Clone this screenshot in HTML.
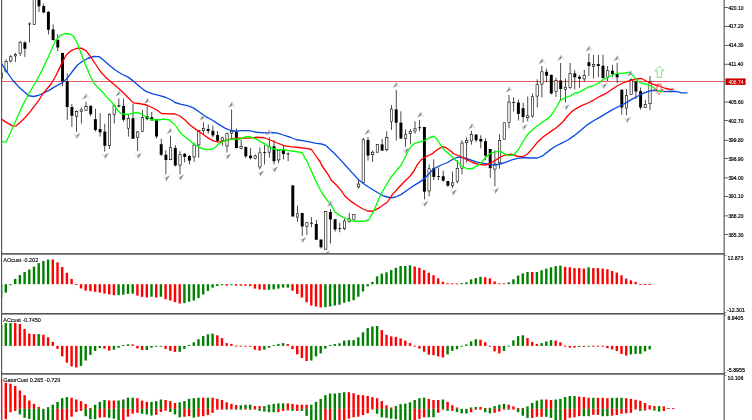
<!DOCTYPE html><html><head><meta charset="utf-8"><title>chart</title><style>html,body{margin:0;padding:0;background:#fff;overflow:hidden}svg{display:block}text{font-family:"Liberation Sans",sans-serif}</style></head><body>
<svg width="752" height="420" viewBox="0 0 752 420">
<rect x="0" y="0" width="752" height="420" fill="#fff"/>
<g>
<rect x="-0.1" y="284.2" width="2.4" height="14.3" fill="#008000"/>
<rect x="4.6" y="284.2" width="2.4" height="8.4" fill="#008000"/>
<rect x="9.3" y="284.2" width="2.4" height="1" fill="#008000"/>
<rect x="14" y="278.9" width="2.4" height="5.3" fill="#008000"/>
<rect x="18.7" y="275.1" width="2.4" height="9.1" fill="#008000"/>
<rect x="23.4" y="272" width="2.4" height="12.2" fill="#008000"/>
<rect x="28.1" y="269.5" width="2.4" height="14.7" fill="#008000"/>
<rect x="32.8" y="266.6" width="2.4" height="17.6" fill="#008000"/>
<rect x="37.5" y="263.1" width="2.4" height="21.1" fill="#008000"/>
<rect x="42.2" y="261" width="2.4" height="23.2" fill="#008000"/>
<rect x="46.9" y="259.5" width="2.4" height="24.7" fill="#008000"/>
<rect x="51.6" y="259.5" width="2.4" height="24.7" fill="#ff0000"/>
<rect x="56.3" y="262.3" width="2.4" height="21.9" fill="#ff0000"/>
<rect x="61" y="267" width="2.4" height="17.2" fill="#ff0000"/>
<rect x="65.7" y="272.8" width="2.4" height="11.4" fill="#ff0000"/>
<rect x="70.4" y="278.9" width="2.4" height="5.3" fill="#ff0000"/>
<rect x="75.1" y="284.1" width="2.4" height="0.9" fill="#ff0000"/>
<rect x="79.8" y="284.2" width="2.4" height="4.2" fill="#ff0000"/>
<rect x="84.5" y="284.2" width="2.4" height="6.4" fill="#ff0000"/>
<rect x="89.2" y="284.2" width="2.4" height="7" fill="#ff0000"/>
<rect x="93.9" y="284.2" width="2.4" height="7.7" fill="#ff0000"/>
<rect x="98.6" y="284.2" width="2.4" height="8.4" fill="#ff0000"/>
<rect x="103.3" y="284.2" width="2.4" height="9.4" fill="#ff0000"/>
<rect x="108" y="284.2" width="2.4" height="10.2" fill="#ff0000"/>
<rect x="112.7" y="284.2" width="2.4" height="11" fill="#ff0000"/>
<rect x="117.4" y="284.2" width="2.4" height="11" fill="#008000"/>
<rect x="122.1" y="284.2" width="2.4" height="10.5" fill="#008000"/>
<rect x="126.8" y="284.2" width="2.4" height="9.7" fill="#008000"/>
<rect x="131.5" y="284.2" width="2.4" height="9.4" fill="#008000"/>
<rect x="136.2" y="284.2" width="2.4" height="11.4" fill="#ff0000"/>
<rect x="140.9" y="284.2" width="2.4" height="12.7" fill="#ff0000"/>
<rect x="145.6" y="284.2" width="2.4" height="13.3" fill="#ff0000"/>
<rect x="150.3" y="284.2" width="2.4" height="12.5" fill="#008000"/>
<rect x="155" y="284.2" width="2.4" height="13.3" fill="#ff0000"/>
<rect x="159.7" y="284.2" width="2.4" height="12.5" fill="#008000"/>
<rect x="164.4" y="284.2" width="2.4" height="15" fill="#ff0000"/>
<rect x="169.1" y="284.2" width="2.4" height="16.3" fill="#ff0000"/>
<rect x="173.8" y="284.2" width="2.4" height="18" fill="#ff0000"/>
<rect x="178.5" y="284.2" width="2.4" height="19.3" fill="#ff0000"/>
<rect x="183.2" y="284.2" width="2.4" height="19" fill="#008000"/>
<rect x="187.9" y="284.2" width="2.4" height="17.5" fill="#008000"/>
<rect x="192.6" y="284.2" width="2.4" height="16.3" fill="#008000"/>
<rect x="197.3" y="284.2" width="2.4" height="13.8" fill="#008000"/>
<rect x="202" y="284.2" width="2.4" height="10.2" fill="#008000"/>
<rect x="206.7" y="284.2" width="2.4" height="6.7" fill="#008000"/>
<rect x="211.4" y="284.2" width="2.4" height="3.5" fill="#008000"/>
<rect x="216.1" y="284.2" width="2.4" height="1.9" fill="#008000"/>
<rect x="220.8" y="284.2" width="2.4" height="1" fill="#008000"/>
<rect x="225.5" y="284.2" width="2.4" height="1.5" fill="#ff0000"/>
<rect x="230.2" y="284.2" width="2.4" height="1" fill="#008000"/>
<rect x="234.9" y="284.2" width="2.4" height="1.5" fill="#ff0000"/>
<rect x="239.6" y="284.2" width="2.4" height="1.5" fill="#ff0000"/>
<rect x="244.3" y="284.2" width="2.4" height="1.5" fill="#ff0000"/>
<rect x="249" y="284.2" width="2.4" height="1.9" fill="#ff0000"/>
<rect x="253.7" y="284.2" width="2.4" height="4.4" fill="#ff0000"/>
<rect x="258.4" y="284.2" width="2.4" height="5.2" fill="#ff0000"/>
<rect x="263.1" y="284.2" width="2.4" height="5.5" fill="#ff0000"/>
<rect x="267.8" y="284.2" width="2.4" height="5.5" fill="#008000"/>
<rect x="272.5" y="284.2" width="2.4" height="5.2" fill="#008000"/>
<rect x="277.2" y="284.2" width="2.4" height="4.4" fill="#008000"/>
<rect x="281.9" y="284.2" width="2.4" height="3.4" fill="#008000"/>
<rect x="286.6" y="284.2" width="2.4" height="3.4" fill="#008000"/>
<rect x="291.3" y="284.2" width="2.4" height="6.4" fill="#ff0000"/>
<rect x="296" y="284.2" width="2.4" height="9.7" fill="#ff0000"/>
<rect x="300.7" y="284.2" width="2.4" height="13.3" fill="#ff0000"/>
<rect x="305.4" y="284.2" width="2.4" height="18" fill="#ff0000"/>
<rect x="310.1" y="284.2" width="2.4" height="21.3" fill="#ff0000"/>
<rect x="314.8" y="284.2" width="2.4" height="22.3" fill="#ff0000"/>
<rect x="319.5" y="284.2" width="2.4" height="23.3" fill="#ff0000"/>
<rect x="324.2" y="284.2" width="2.4" height="23" fill="#008000"/>
<rect x="328.9" y="284.2" width="2.4" height="22.2" fill="#008000"/>
<rect x="333.6" y="284.2" width="2.4" height="21.3" fill="#008000"/>
<rect x="338.3" y="284.2" width="2.4" height="20.5" fill="#008000"/>
<rect x="343" y="284.2" width="2.4" height="18.5" fill="#008000"/>
<rect x="347.7" y="284.2" width="2.4" height="17.5" fill="#008000"/>
<rect x="352.4" y="284.2" width="2.4" height="16" fill="#008000"/>
<rect x="357.1" y="284.2" width="2.4" height="12.5" fill="#008000"/>
<rect x="361.8" y="284.2" width="2.4" height="7.3" fill="#008000"/>
<rect x="366.5" y="284.2" width="2.4" height="2.2" fill="#008000"/>
<rect x="371.2" y="281.9" width="2.4" height="2.3" fill="#008000"/>
<rect x="375.9" y="276.4" width="2.4" height="7.8" fill="#008000"/>
<rect x="380.6" y="273.6" width="2.4" height="10.6" fill="#008000"/>
<rect x="385.3" y="272.3" width="2.4" height="11.9" fill="#008000"/>
<rect x="390" y="270.1" width="2.4" height="14.1" fill="#008000"/>
<rect x="394.7" y="267.8" width="2.4" height="16.4" fill="#008000"/>
<rect x="399.4" y="266" width="2.4" height="18.2" fill="#008000"/>
<rect x="404.1" y="266" width="2.4" height="18.2" fill="#008000"/>
<rect x="408.8" y="265.3" width="2.4" height="18.9" fill="#008000"/>
<rect x="413.5" y="266.5" width="2.4" height="17.7" fill="#ff0000"/>
<rect x="418.2" y="267.8" width="2.4" height="16.4" fill="#ff0000"/>
<rect x="422.9" y="270.1" width="2.4" height="14.1" fill="#ff0000"/>
<rect x="427.6" y="272.8" width="2.4" height="11.4" fill="#ff0000"/>
<rect x="432.3" y="275.3" width="2.4" height="8.9" fill="#ff0000"/>
<rect x="437" y="278.4" width="2.4" height="5.8" fill="#ff0000"/>
<rect x="441.7" y="281.8" width="2.4" height="2.4" fill="#ff0000"/>
<rect x="446.4" y="283.2" width="2.4" height="1" fill="#ff0000"/>
<rect x="451.1" y="283.3" width="2.4" height="0.9" fill="#ff0000"/>
<rect x="455.8" y="283.45" width="2.4" height="0.9" fill="#ff0000"/>
<rect x="460.5" y="283.1" width="2.4" height="1.1" fill="#008000"/>
<rect x="465.2" y="282.3" width="2.4" height="1.9" fill="#008000"/>
<rect x="469.9" y="279.4" width="2.4" height="4.8" fill="#008000"/>
<rect x="474.6" y="278.1" width="2.4" height="6.1" fill="#008000"/>
<rect x="479.3" y="276.8" width="2.4" height="7.4" fill="#008000"/>
<rect x="484" y="277.3" width="2.4" height="6.9" fill="#ff0000"/>
<rect x="488.7" y="278.4" width="2.4" height="5.8" fill="#ff0000"/>
<rect x="493.4" y="281.4" width="2.4" height="2.8" fill="#ff0000"/>
<rect x="498.1" y="283.3" width="2.4" height="0.9" fill="#ff0000"/>
<rect x="502.8" y="283.3" width="2.4" height="0.9" fill="#ff0000"/>
<rect x="507.5" y="282.3" width="2.4" height="1.9" fill="#008000"/>
<rect x="512.2" y="279.3" width="2.4" height="4.9" fill="#008000"/>
<rect x="516.9" y="275.6" width="2.4" height="8.6" fill="#008000"/>
<rect x="521.6" y="273.4" width="2.4" height="10.8" fill="#008000"/>
<rect x="526.3" y="272" width="2.4" height="12.2" fill="#008000"/>
<rect x="531" y="272" width="2.4" height="12.2" fill="#ff0000"/>
<rect x="535.7" y="272" width="2.4" height="12.2" fill="#008000"/>
<rect x="540.4" y="270.3" width="2.4" height="13.9" fill="#008000"/>
<rect x="545.1" y="268.6" width="2.4" height="15.6" fill="#008000"/>
<rect x="549.8" y="267.3" width="2.4" height="16.9" fill="#008000"/>
<rect x="554.5" y="266.1" width="2.4" height="18.1" fill="#008000"/>
<rect x="559.2" y="265.6" width="2.4" height="18.6" fill="#008000"/>
<rect x="563.9" y="266.8" width="2.4" height="17.4" fill="#ff0000"/>
<rect x="568.6" y="267.3" width="2.4" height="16.9" fill="#ff0000"/>
<rect x="573.3" y="268.1" width="2.4" height="16.1" fill="#ff0000"/>
<rect x="578" y="268.1" width="2.4" height="16.1" fill="#ff0000"/>
<rect x="582.7" y="268.6" width="2.4" height="15.6" fill="#ff0000"/>
<rect x="587.4" y="267.3" width="2.4" height="16.9" fill="#008000"/>
<rect x="592.1" y="268.1" width="2.4" height="16.1" fill="#ff0000"/>
<rect x="596.8" y="268.1" width="2.4" height="16.1" fill="#ff0000"/>
<rect x="601.5" y="268.6" width="2.4" height="15.6" fill="#ff0000"/>
<rect x="606.2" y="269.3" width="2.4" height="14.9" fill="#ff0000"/>
<rect x="610.9" y="271" width="2.4" height="13.2" fill="#ff0000"/>
<rect x="615.6" y="272.6" width="2.4" height="11.6" fill="#ff0000"/>
<rect x="620.3" y="275.3" width="2.4" height="8.9" fill="#ff0000"/>
<rect x="625" y="278.6" width="2.4" height="5.6" fill="#ff0000"/>
<rect x="629.7" y="280.3" width="2.4" height="3.9" fill="#ff0000"/>
<rect x="634.4" y="281.9" width="2.4" height="2.3" fill="#ff0000"/>
<rect x="639.1" y="284.1" width="2.4" height="0.9" fill="#ff0000"/>
<rect x="643.8" y="284.1" width="2.4" height="0.9" fill="#ff0000"/>
<rect x="648.5" y="284.1" width="2.4" height="0.9" fill="#ff0000"/>
<rect x="-0.1" y="324.8" width="2.4" height="21.1" fill="#008000"/>
<rect x="4.6" y="323.1" width="2.4" height="22.8" fill="#008000"/>
<rect x="9.3" y="323.1" width="2.4" height="22.8" fill="#008000"/>
<rect x="14" y="323.1" width="2.4" height="22.8" fill="#ff0000"/>
<rect x="18.7" y="324" width="2.4" height="21.9" fill="#ff0000"/>
<rect x="23.4" y="329" width="2.4" height="16.9" fill="#ff0000"/>
<rect x="28.1" y="333.6" width="2.4" height="12.3" fill="#ff0000"/>
<rect x="32.8" y="334.1" width="2.4" height="11.8" fill="#ff0000"/>
<rect x="37.5" y="334.1" width="2.4" height="11.8" fill="#008000"/>
<rect x="42.2" y="334.8" width="2.4" height="11.1" fill="#ff0000"/>
<rect x="46.9" y="337.3" width="2.4" height="8.6" fill="#ff0000"/>
<rect x="51.6" y="341.9" width="2.4" height="4" fill="#ff0000"/>
<rect x="56.3" y="345.9" width="2.4" height="3" fill="#ff0000"/>
<rect x="61" y="345.9" width="2.4" height="10.5" fill="#ff0000"/>
<rect x="65.7" y="345.9" width="2.4" height="16.8" fill="#ff0000"/>
<rect x="70.4" y="345.9" width="2.4" height="20.5" fill="#ff0000"/>
<rect x="75.1" y="345.9" width="2.4" height="21.6" fill="#ff0000"/>
<rect x="79.8" y="345.9" width="2.4" height="20" fill="#008000"/>
<rect x="84.5" y="345.9" width="2.4" height="14.6" fill="#008000"/>
<rect x="89.2" y="345.9" width="2.4" height="9" fill="#008000"/>
<rect x="93.9" y="345.9" width="2.4" height="5" fill="#008000"/>
<rect x="98.6" y="345.9" width="2.4" height="2.2" fill="#008000"/>
<rect x="103.3" y="345.9" width="2.4" height="2.7" fill="#ff0000"/>
<rect x="108" y="345.9" width="2.4" height="4.7" fill="#ff0000"/>
<rect x="112.7" y="345.9" width="2.4" height="3.8" fill="#008000"/>
<rect x="117.4" y="345.9" width="2.4" height="1.8" fill="#008000"/>
<rect x="122.1" y="345.15" width="2.4" height="0.9" fill="#008000"/>
<rect x="126.8" y="344.3" width="2.4" height="1.6" fill="#008000"/>
<rect x="131.5" y="344.4" width="2.4" height="1.5" fill="#ff0000"/>
<rect x="136.2" y="345.9" width="2.4" height="2.5" fill="#ff0000"/>
<rect x="140.9" y="345.9" width="2.4" height="4.2" fill="#ff0000"/>
<rect x="145.6" y="345.9" width="2.4" height="4.2" fill="#008000"/>
<rect x="150.3" y="345.9" width="2.4" height="1.8" fill="#008000"/>
<rect x="155" y="345.85" width="2.4" height="0.9" fill="#008000"/>
<rect x="159.7" y="345.8" width="2.4" height="0.9" fill="#008000"/>
<rect x="164.4" y="345.9" width="2.4" height="3" fill="#ff0000"/>
<rect x="169.1" y="345.9" width="2.4" height="5" fill="#ff0000"/>
<rect x="173.8" y="345.9" width="2.4" height="6" fill="#ff0000"/>
<rect x="178.5" y="345.9" width="2.4" height="6" fill="#008000"/>
<rect x="183.2" y="345.9" width="2.4" height="3" fill="#008000"/>
<rect x="187.9" y="344.9" width="2.4" height="1" fill="#008000"/>
<rect x="192.6" y="342.3" width="2.4" height="3.6" fill="#008000"/>
<rect x="197.3" y="339.3" width="2.4" height="6.6" fill="#008000"/>
<rect x="202" y="336.1" width="2.4" height="9.8" fill="#008000"/>
<rect x="206.7" y="334.3" width="2.4" height="11.6" fill="#008000"/>
<rect x="211.4" y="333.6" width="2.4" height="12.3" fill="#008000"/>
<rect x="216.1" y="335.3" width="2.4" height="10.6" fill="#ff0000"/>
<rect x="220.8" y="338.1" width="2.4" height="7.8" fill="#ff0000"/>
<rect x="225.5" y="343.1" width="2.4" height="2.8" fill="#ff0000"/>
<rect x="230.2" y="343.9" width="2.4" height="2" fill="#ff0000"/>
<rect x="234.9" y="345.7" width="2.4" height="0.9" fill="#ff0000"/>
<rect x="239.6" y="345.7" width="2.4" height="0.9" fill="#ff0000"/>
<rect x="244.3" y="345.7" width="2.4" height="0.9" fill="#ff0000"/>
<rect x="249" y="345.8" width="2.4" height="0.9" fill="#ff0000"/>
<rect x="253.7" y="345.9" width="2.4" height="3.8" fill="#ff0000"/>
<rect x="258.4" y="345.9" width="2.4" height="4.7" fill="#ff0000"/>
<rect x="263.1" y="345.9" width="2.4" height="3.8" fill="#008000"/>
<rect x="267.8" y="345.9" width="2.4" height="1.8" fill="#008000"/>
<rect x="272.5" y="345.15" width="2.4" height="0.9" fill="#008000"/>
<rect x="277.2" y="343.9" width="2.4" height="2" fill="#008000"/>
<rect x="281.9" y="343.1" width="2.4" height="2.8" fill="#008000"/>
<rect x="286.6" y="344.1" width="2.4" height="1.8" fill="#ff0000"/>
<rect x="291.3" y="345.9" width="2.4" height="3.3" fill="#ff0000"/>
<rect x="296" y="345.9" width="2.4" height="8.5" fill="#ff0000"/>
<rect x="300.7" y="345.9" width="2.4" height="12.1" fill="#ff0000"/>
<rect x="305.4" y="345.9" width="2.4" height="15.1" fill="#ff0000"/>
<rect x="310.1" y="345.9" width="2.4" height="14.6" fill="#008000"/>
<rect x="314.8" y="345.9" width="2.4" height="10.5" fill="#008000"/>
<rect x="319.5" y="345.9" width="2.4" height="7.5" fill="#008000"/>
<rect x="324.2" y="345.9" width="2.4" height="2.7" fill="#008000"/>
<rect x="328.9" y="345.15" width="2.4" height="0.9" fill="#008000"/>
<rect x="333.6" y="344.1" width="2.4" height="1.8" fill="#008000"/>
<rect x="338.3" y="343.3" width="2.4" height="2.6" fill="#008000"/>
<rect x="343" y="340.6" width="2.4" height="5.3" fill="#008000"/>
<rect x="347.7" y="340.1" width="2.4" height="5.8" fill="#008000"/>
<rect x="352.4" y="340.1" width="2.4" height="5.8" fill="#008000"/>
<rect x="357.1" y="337.3" width="2.4" height="8.6" fill="#008000"/>
<rect x="361.8" y="332.3" width="2.4" height="13.6" fill="#008000"/>
<rect x="366.5" y="328.1" width="2.4" height="17.8" fill="#008000"/>
<rect x="371.2" y="326.5" width="2.4" height="19.4" fill="#008000"/>
<rect x="375.9" y="326" width="2.4" height="19.9" fill="#008000"/>
<rect x="380.6" y="330.1" width="2.4" height="15.8" fill="#ff0000"/>
<rect x="385.3" y="334.8" width="2.4" height="11.1" fill="#ff0000"/>
<rect x="390" y="336.4" width="2.4" height="9.5" fill="#ff0000"/>
<rect x="394.7" y="336.9" width="2.4" height="9" fill="#ff0000"/>
<rect x="399.4" y="338.4" width="2.4" height="7.5" fill="#ff0000"/>
<rect x="404.1" y="340.6" width="2.4" height="5.3" fill="#ff0000"/>
<rect x="408.8" y="343.1" width="2.4" height="2.8" fill="#ff0000"/>
<rect x="413.5" y="345.7" width="2.4" height="0.9" fill="#ff0000"/>
<rect x="418.2" y="345.9" width="2.4" height="2.7" fill="#ff0000"/>
<rect x="422.9" y="345.9" width="2.4" height="5.8" fill="#ff0000"/>
<rect x="427.6" y="345.9" width="2.4" height="8.8" fill="#ff0000"/>
<rect x="432.3" y="345.9" width="2.4" height="9.3" fill="#ff0000"/>
<rect x="437" y="345.9" width="2.4" height="10.5" fill="#ff0000"/>
<rect x="441.7" y="345.9" width="2.4" height="11.6" fill="#ff0000"/>
<rect x="446.4" y="345.9" width="2.4" height="8.5" fill="#008000"/>
<rect x="451.1" y="345.9" width="2.4" height="5" fill="#008000"/>
<rect x="455.8" y="345.9" width="2.4" height="3.3" fill="#008000"/>
<rect x="460.5" y="345.7" width="2.4" height="0.9" fill="#008000"/>
<rect x="465.2" y="344.4" width="2.4" height="1.5" fill="#008000"/>
<rect x="469.9" y="341.4" width="2.4" height="4.5" fill="#008000"/>
<rect x="474.6" y="339.3" width="2.4" height="6.6" fill="#008000"/>
<rect x="479.3" y="339.8" width="2.4" height="6.1" fill="#ff0000"/>
<rect x="484" y="342.3" width="2.4" height="3.6" fill="#ff0000"/>
<rect x="488.7" y="345.7" width="2.4" height="0.9" fill="#ff0000"/>
<rect x="493.4" y="345.9" width="2.4" height="5.5" fill="#ff0000"/>
<rect x="498.1" y="345.9" width="2.4" height="7.5" fill="#ff0000"/>
<rect x="502.8" y="345.9" width="2.4" height="5" fill="#008000"/>
<rect x="507.5" y="345.7" width="2.4" height="0.9" fill="#008000"/>
<rect x="512.2" y="340.3" width="2.4" height="5.6" fill="#008000"/>
<rect x="516.9" y="336.1" width="2.4" height="9.8" fill="#008000"/>
<rect x="521.6" y="335.3" width="2.4" height="10.6" fill="#008000"/>
<rect x="526.3" y="338.1" width="2.4" height="7.8" fill="#ff0000"/>
<rect x="531" y="341.9" width="2.4" height="4" fill="#ff0000"/>
<rect x="535.7" y="343.9" width="2.4" height="2" fill="#ff0000"/>
<rect x="540.4" y="343.1" width="2.4" height="2.8" fill="#008000"/>
<rect x="545.1" y="341.4" width="2.4" height="4.5" fill="#008000"/>
<rect x="549.8" y="340.1" width="2.4" height="5.8" fill="#008000"/>
<rect x="554.5" y="340.6" width="2.4" height="5.3" fill="#ff0000"/>
<rect x="559.2" y="342.3" width="2.4" height="3.6" fill="#ff0000"/>
<rect x="563.9" y="345.7" width="2.4" height="0.9" fill="#ff0000"/>
<rect x="568.6" y="345.9" width="2.4" height="1.7" fill="#ff0000"/>
<rect x="573.3" y="345.9" width="2.4" height="1.7" fill="#ff0000"/>
<rect x="578" y="345.9" width="2.4" height="1" fill="#008000"/>
<rect x="582.7" y="345.9" width="2.4" height="1" fill="#ff0000"/>
<rect x="587.4" y="345.7" width="2.4" height="0.9" fill="#008000"/>
<rect x="592.1" y="345.7" width="2.4" height="0.9" fill="#ff0000"/>
<rect x="596.8" y="345.7" width="2.4" height="0.9" fill="#ff0000"/>
<rect x="601.5" y="345.7" width="2.4" height="0.9" fill="#ff0000"/>
<rect x="606.2" y="345.9" width="2.4" height="2.2" fill="#ff0000"/>
<rect x="610.9" y="345.9" width="2.4" height="3.5" fill="#ff0000"/>
<rect x="615.6" y="345.9" width="2.4" height="5.2" fill="#ff0000"/>
<rect x="620.3" y="345.9" width="2.4" height="8" fill="#ff0000"/>
<rect x="625" y="345.9" width="2.4" height="9.7" fill="#ff0000"/>
<rect x="629.7" y="345.9" width="2.4" height="8.5" fill="#008000"/>
<rect x="634.4" y="345.9" width="2.4" height="8" fill="#008000"/>
<rect x="639.1" y="345.9" width="2.4" height="8" fill="#008000"/>
<rect x="643.8" y="345.9" width="2.4" height="5.5" fill="#008000"/>
<rect x="648.5" y="345.9" width="2.4" height="3.5" fill="#008000"/>
<rect x="-0.1" y="379.6" width="2.4" height="29.25" fill="#ff0000"/>
<rect x="-0.1" y="408.85" width="2.4" height="12.15" fill="#ff0000"/>
<rect x="4.6" y="382.9" width="2.4" height="25.95" fill="#ff0000"/>
<rect x="4.6" y="408.85" width="2.4" height="10.35" fill="#ff0000"/>
<rect x="9.3" y="383.7" width="2.4" height="25.15" fill="#ff0000"/>
<rect x="9.3" y="408.85" width="2.4" height="3.45" fill="#ff0000"/>
<rect x="14" y="386" width="2.4" height="22.85" fill="#ff0000"/>
<rect x="14" y="408.85" width="2.4" height="2.05" fill="#ff0000"/>
<rect x="18.7" y="390.5" width="2.4" height="18.35" fill="#ff0000"/>
<rect x="18.7" y="408.85" width="2.4" height="5.55" fill="#008000"/>
<rect x="23.4" y="395.2" width="2.4" height="13.65" fill="#ff0000"/>
<rect x="23.4" y="408.85" width="2.4" height="8.95" fill="#008000"/>
<rect x="28.1" y="400.5" width="2.4" height="8.35" fill="#ff0000"/>
<rect x="28.1" y="408.85" width="2.4" height="10.05" fill="#008000"/>
<rect x="32.8" y="403.9" width="2.4" height="4.95" fill="#ff0000"/>
<rect x="32.8" y="408.85" width="2.4" height="12.15" fill="#008000"/>
<rect x="37.5" y="407" width="2.4" height="1.85" fill="#ff0000"/>
<rect x="37.5" y="408.85" width="2.4" height="12.15" fill="#008000"/>
<rect x="42.2" y="408.85" width="2.4" height="12.15" fill="#008000"/>
<rect x="46.9" y="407.2" width="2.4" height="1.65" fill="#008000"/>
<rect x="46.9" y="408.85" width="2.4" height="12.15" fill="#008000"/>
<rect x="51.6" y="404.7" width="2.4" height="4.15" fill="#008000"/>
<rect x="51.6" y="408.85" width="2.4" height="12.15" fill="#008000"/>
<rect x="56.3" y="401.9" width="2.4" height="6.95" fill="#008000"/>
<rect x="56.3" y="408.85" width="2.4" height="12.15" fill="#ff0000"/>
<rect x="61" y="398.2" width="2.4" height="10.65" fill="#008000"/>
<rect x="61" y="408.85" width="2.4" height="12.15" fill="#ff0000"/>
<rect x="65.7" y="397.1" width="2.4" height="11.75" fill="#008000"/>
<rect x="65.7" y="408.85" width="2.4" height="12.15" fill="#ff0000"/>
<rect x="70.4" y="397.7" width="2.4" height="11.15" fill="#ff0000"/>
<rect x="70.4" y="408.85" width="2.4" height="7.85" fill="#ff0000"/>
<rect x="75.1" y="399.5" width="2.4" height="9.35" fill="#ff0000"/>
<rect x="75.1" y="408.85" width="2.4" height="3.15" fill="#ff0000"/>
<rect x="79.8" y="401.1" width="2.4" height="7.75" fill="#ff0000"/>
<rect x="79.8" y="408.85" width="2.4" height="2.05" fill="#ff0000"/>
<rect x="84.5" y="403.9" width="2.4" height="4.95" fill="#ff0000"/>
<rect x="84.5" y="408.85" width="2.4" height="7.35" fill="#008000"/>
<rect x="89.2" y="408.03" width="2.4" height="0.9" fill="#ff0000"/>
<rect x="89.2" y="408.85" width="2.4" height="10.35" fill="#008000"/>
<rect x="93.9" y="404.7" width="2.4" height="4.15" fill="#008000"/>
<rect x="93.9" y="408.85" width="2.4" height="10.35" fill="#008000"/>
<rect x="98.6" y="401.9" width="2.4" height="6.95" fill="#008000"/>
<rect x="98.6" y="408.85" width="2.4" height="8.75" fill="#ff0000"/>
<rect x="103.3" y="400" width="2.4" height="8.85" fill="#008000"/>
<rect x="103.3" y="408.85" width="2.4" height="8.35" fill="#ff0000"/>
<rect x="108" y="400.5" width="2.4" height="8.35" fill="#ff0000"/>
<rect x="108" y="408.85" width="2.4" height="8.95" fill="#008000"/>
<rect x="112.7" y="400.5" width="2.4" height="8.35" fill="#ff0000"/>
<rect x="112.7" y="408.85" width="2.4" height="9.85" fill="#008000"/>
<rect x="117.4" y="400.5" width="2.4" height="8.35" fill="#008000"/>
<rect x="117.4" y="408.85" width="2.4" height="12.15" fill="#008000"/>
<rect x="122.1" y="399.5" width="2.4" height="9.35" fill="#008000"/>
<rect x="122.1" y="408.85" width="2.4" height="12.15" fill="#ff0000"/>
<rect x="126.8" y="397.7" width="2.4" height="11.15" fill="#008000"/>
<rect x="126.8" y="408.85" width="2.4" height="7.85" fill="#ff0000"/>
<rect x="131.5" y="397.7" width="2.4" height="11.15" fill="#008000"/>
<rect x="131.5" y="408.85" width="2.4" height="4.85" fill="#ff0000"/>
<rect x="136.2" y="398.2" width="2.4" height="10.65" fill="#ff0000"/>
<rect x="136.2" y="408.85" width="2.4" height="3.95" fill="#ff0000"/>
<rect x="140.9" y="400.6" width="2.4" height="8.25" fill="#ff0000"/>
<rect x="140.9" y="408.85" width="2.4" height="4.85" fill="#008000"/>
<rect x="145.6" y="401.9" width="2.4" height="6.95" fill="#ff0000"/>
<rect x="145.6" y="408.85" width="2.4" height="5.55" fill="#008000"/>
<rect x="150.3" y="401.9" width="2.4" height="6.95" fill="#008000"/>
<rect x="150.3" y="408.85" width="2.4" height="6.75" fill="#008000"/>
<rect x="155" y="401.1" width="2.4" height="7.75" fill="#008000"/>
<rect x="155" y="408.85" width="2.4" height="5.95" fill="#ff0000"/>
<rect x="159.7" y="399.5" width="2.4" height="9.35" fill="#008000"/>
<rect x="159.7" y="408.85" width="2.4" height="3.15" fill="#ff0000"/>
<rect x="164.4" y="400" width="2.4" height="8.85" fill="#ff0000"/>
<rect x="164.4" y="408.85" width="2.4" height="1.75" fill="#ff0000"/>
<rect x="169.1" y="401.1" width="2.4" height="7.75" fill="#ff0000"/>
<rect x="169.1" y="408.85" width="2.4" height="3.15" fill="#008000"/>
<rect x="173.8" y="403" width="2.4" height="5.85" fill="#ff0000"/>
<rect x="173.8" y="408.85" width="2.4" height="5.55" fill="#008000"/>
<rect x="178.5" y="402.3" width="2.4" height="6.55" fill="#008000"/>
<rect x="178.5" y="408.85" width="2.4" height="8.45" fill="#008000"/>
<rect x="183.2" y="401.1" width="2.4" height="7.75" fill="#008000"/>
<rect x="183.2" y="408.85" width="2.4" height="7.95" fill="#ff0000"/>
<rect x="187.9" y="398.9" width="2.4" height="9.95" fill="#008000"/>
<rect x="187.9" y="408.85" width="2.4" height="7.35" fill="#ff0000"/>
<rect x="192.6" y="398.2" width="2.4" height="10.65" fill="#008000"/>
<rect x="192.6" y="408.85" width="2.4" height="8.75" fill="#008000"/>
<rect x="197.3" y="397.7" width="2.4" height="11.15" fill="#008000"/>
<rect x="197.3" y="408.85" width="2.4" height="7.85" fill="#ff0000"/>
<rect x="202" y="397.7" width="2.4" height="11.15" fill="#ff0000"/>
<rect x="202" y="408.85" width="2.4" height="7.35" fill="#ff0000"/>
<rect x="206.7" y="397.7" width="2.4" height="11.15" fill="#008000"/>
<rect x="206.7" y="408.85" width="2.4" height="6.25" fill="#ff0000"/>
<rect x="211.4" y="397.7" width="2.4" height="11.15" fill="#ff0000"/>
<rect x="211.4" y="408.85" width="2.4" height="3.95" fill="#ff0000"/>
<rect x="216.1" y="398.9" width="2.4" height="9.95" fill="#ff0000"/>
<rect x="216.1" y="408.82" width="2.4" height="0.9" fill="#ff0000"/>
<rect x="220.8" y="400" width="2.4" height="8.85" fill="#ff0000"/>
<rect x="220.8" y="408.68" width="2.4" height="0.9" fill="#ff0000"/>
<rect x="225.5" y="402.3" width="2.4" height="6.55" fill="#ff0000"/>
<rect x="225.5" y="408.73" width="2.4" height="0.9" fill="#008000"/>
<rect x="230.2" y="403.9" width="2.4" height="4.95" fill="#ff0000"/>
<rect x="230.2" y="408.63" width="2.4" height="0.9" fill="#ff0000"/>
<rect x="234.9" y="405" width="2.4" height="3.85" fill="#ff0000"/>
<rect x="234.9" y="408.73" width="2.4" height="0.9" fill="#008000"/>
<rect x="239.6" y="405.3" width="2.4" height="3.55" fill="#008000"/>
<rect x="239.6" y="408.82" width="2.4" height="0.9" fill="#008000"/>
<rect x="244.3" y="404.7" width="2.4" height="4.15" fill="#008000"/>
<rect x="244.3" y="408.63" width="2.4" height="0.9" fill="#ff0000"/>
<rect x="249" y="404.7" width="2.4" height="4.15" fill="#008000"/>
<rect x="249" y="408.82" width="2.4" height="0.9" fill="#008000"/>
<rect x="253.7" y="406.1" width="2.4" height="2.75" fill="#ff0000"/>
<rect x="253.7" y="408.63" width="2.4" height="0.9" fill="#ff0000"/>
<rect x="258.4" y="406.1" width="2.4" height="2.75" fill="#ff0000"/>
<rect x="258.4" y="408.85" width="2.4" height="2.05" fill="#008000"/>
<rect x="263.1" y="406.1" width="2.4" height="2.75" fill="#008000"/>
<rect x="263.1" y="408.85" width="2.4" height="2.75" fill="#008000"/>
<rect x="267.8" y="404.7" width="2.4" height="4.15" fill="#008000"/>
<rect x="267.8" y="408.85" width="2.4" height="3.35" fill="#008000"/>
<rect x="272.5" y="403.9" width="2.4" height="4.95" fill="#008000"/>
<rect x="272.5" y="408.85" width="2.4" height="3.35" fill="#008000"/>
<rect x="277.2" y="403.4" width="2.4" height="5.45" fill="#008000"/>
<rect x="277.2" y="408.85" width="2.4" height="3.35" fill="#ff0000"/>
<rect x="281.9" y="403.4" width="2.4" height="5.45" fill="#008000"/>
<rect x="281.9" y="408.85" width="2.4" height="2.05" fill="#ff0000"/>
<rect x="286.6" y="403.4" width="2.4" height="5.45" fill="#ff0000"/>
<rect x="286.6" y="408.85" width="2.4" height="1.45" fill="#ff0000"/>
<rect x="291.3" y="403.9" width="2.4" height="4.95" fill="#ff0000"/>
<rect x="291.3" y="408.85" width="2.4" height="2.05" fill="#008000"/>
<rect x="296" y="404.7" width="2.4" height="4.15" fill="#ff0000"/>
<rect x="296" y="408.85" width="2.4" height="2.05" fill="#ff0000"/>
<rect x="300.7" y="404.7" width="2.4" height="4.15" fill="#ff0000"/>
<rect x="300.7" y="408.85" width="2.4" height="2.05" fill="#008000"/>
<rect x="305.4" y="404.7" width="2.4" height="4.15" fill="#ff0000"/>
<rect x="305.4" y="408.85" width="2.4" height="7.05" fill="#008000"/>
<rect x="310.1" y="404.7" width="2.4" height="4.15" fill="#008000"/>
<rect x="310.1" y="408.85" width="2.4" height="12.15" fill="#008000"/>
<rect x="314.8" y="401.9" width="2.4" height="6.95" fill="#008000"/>
<rect x="314.8" y="408.85" width="2.4" height="12.15" fill="#008000"/>
<rect x="319.5" y="398.9" width="2.4" height="9.95" fill="#008000"/>
<rect x="319.5" y="408.85" width="2.4" height="12.15" fill="#008000"/>
<rect x="324.2" y="395.2" width="2.4" height="13.65" fill="#008000"/>
<rect x="324.2" y="408.85" width="2.4" height="12.15" fill="#ff0000"/>
<rect x="328.9" y="393.5" width="2.4" height="15.35" fill="#008000"/>
<rect x="328.9" y="408.85" width="2.4" height="12.15" fill="#ff0000"/>
<rect x="333.6" y="393.5" width="2.4" height="15.35" fill="#008000"/>
<rect x="333.6" y="408.85" width="2.4" height="12.15" fill="#008000"/>
<rect x="338.3" y="393" width="2.4" height="15.85" fill="#008000"/>
<rect x="338.3" y="408.85" width="2.4" height="12.15" fill="#ff0000"/>
<rect x="343" y="392.2" width="2.4" height="16.65" fill="#008000"/>
<rect x="343" y="408.85" width="2.4" height="12.15" fill="#ff0000"/>
<rect x="347.7" y="392.2" width="2.4" height="16.65" fill="#ff0000"/>
<rect x="347.7" y="408.85" width="2.4" height="9.85" fill="#ff0000"/>
<rect x="352.4" y="393.2" width="2.4" height="15.65" fill="#ff0000"/>
<rect x="352.4" y="408.85" width="2.4" height="8.45" fill="#ff0000"/>
<rect x="357.1" y="394.9" width="2.4" height="13.95" fill="#ff0000"/>
<rect x="357.1" y="408.85" width="2.4" height="7.85" fill="#ff0000"/>
<rect x="361.8" y="395.2" width="2.4" height="13.65" fill="#ff0000"/>
<rect x="361.8" y="408.85" width="2.4" height="6.15" fill="#ff0000"/>
<rect x="366.5" y="396" width="2.4" height="12.85" fill="#ff0000"/>
<rect x="366.5" y="408.85" width="2.4" height="4.45" fill="#ff0000"/>
<rect x="371.2" y="397.1" width="2.4" height="11.75" fill="#ff0000"/>
<rect x="371.2" y="408.68" width="2.4" height="0.9" fill="#ff0000"/>
<rect x="375.9" y="398.2" width="2.4" height="10.65" fill="#ff0000"/>
<rect x="375.9" y="408.85" width="2.4" height="4.85" fill="#008000"/>
<rect x="380.6" y="401.1" width="2.4" height="7.75" fill="#ff0000"/>
<rect x="380.6" y="408.85" width="2.4" height="8.45" fill="#008000"/>
<rect x="385.3" y="405.3" width="2.4" height="3.55" fill="#ff0000"/>
<rect x="385.3" y="408.85" width="2.4" height="8.95" fill="#008000"/>
<rect x="390" y="407.5" width="2.4" height="1.35" fill="#ff0000"/>
<rect x="390" y="408.85" width="2.4" height="9.85" fill="#008000"/>
<rect x="394.7" y="406.1" width="2.4" height="2.75" fill="#008000"/>
<rect x="394.7" y="408.85" width="2.4" height="10.35" fill="#008000"/>
<rect x="399.4" y="404.2" width="2.4" height="4.65" fill="#008000"/>
<rect x="399.4" y="408.85" width="2.4" height="12.15" fill="#008000"/>
<rect x="404.1" y="403.6" width="2.4" height="5.25" fill="#008000"/>
<rect x="404.1" y="408.85" width="2.4" height="12.15" fill="#008000"/>
<rect x="408.8" y="402.3" width="2.4" height="6.55" fill="#008000"/>
<rect x="408.8" y="408.85" width="2.4" height="12.15" fill="#008000"/>
<rect x="413.5" y="400" width="2.4" height="8.85" fill="#008000"/>
<rect x="413.5" y="408.85" width="2.4" height="12.15" fill="#ff0000"/>
<rect x="418.2" y="398.2" width="2.4" height="10.65" fill="#008000"/>
<rect x="418.2" y="408.85" width="2.4" height="10.05" fill="#ff0000"/>
<rect x="422.9" y="397.7" width="2.4" height="11.15" fill="#008000"/>
<rect x="422.9" y="408.85" width="2.4" height="8.45" fill="#ff0000"/>
<rect x="427.6" y="398.9" width="2.4" height="9.95" fill="#ff0000"/>
<rect x="427.6" y="408.85" width="2.4" height="8.45" fill="#008000"/>
<rect x="432.3" y="400" width="2.4" height="8.85" fill="#ff0000"/>
<rect x="432.3" y="408.85" width="2.4" height="8.45" fill="#008000"/>
<rect x="437" y="400" width="2.4" height="8.85" fill="#ff0000"/>
<rect x="437" y="408.85" width="2.4" height="3.95" fill="#ff0000"/>
<rect x="441.7" y="399.5" width="2.4" height="9.35" fill="#008000"/>
<rect x="441.7" y="408.82" width="2.4" height="0.9" fill="#ff0000"/>
<rect x="446.4" y="401.9" width="2.4" height="6.95" fill="#ff0000"/>
<rect x="446.4" y="408.85" width="2.4" height="2.05" fill="#008000"/>
<rect x="451.1" y="405.3" width="2.4" height="3.55" fill="#ff0000"/>
<rect x="451.1" y="408.85" width="2.4" height="2.05" fill="#ff0000"/>
<rect x="455.8" y="407.5" width="2.4" height="1.35" fill="#ff0000"/>
<rect x="455.8" y="408.85" width="2.4" height="3.15" fill="#008000"/>
<rect x="460.5" y="408.85" width="2.4" height="4.55" fill="#008000"/>
<rect x="465.2" y="408.85" width="2.4" height="4.55" fill="#008000"/>
<rect x="469.9" y="407.5" width="2.4" height="1.35" fill="#008000"/>
<rect x="469.9" y="408.85" width="2.4" height="3.35" fill="#ff0000"/>
<rect x="474.6" y="407" width="2.4" height="1.85" fill="#008000"/>
<rect x="474.6" y="408.82" width="2.4" height="0.9" fill="#ff0000"/>
<rect x="479.3" y="407" width="2.4" height="1.85" fill="#ff0000"/>
<rect x="479.3" y="408.82" width="2.4" height="0.9" fill="#ff0000"/>
<rect x="484" y="408.03" width="2.4" height="0.9" fill="#ff0000"/>
<rect x="484" y="408.85" width="2.4" height="3.35" fill="#008000"/>
<rect x="488.7" y="407.8" width="2.4" height="1.05" fill="#008000"/>
<rect x="488.7" y="408.85" width="2.4" height="4.45" fill="#008000"/>
<rect x="493.4" y="406.1" width="2.4" height="2.75" fill="#008000"/>
<rect x="493.4" y="408.85" width="2.4" height="3.95" fill="#ff0000"/>
<rect x="498.1" y="404.7" width="2.4" height="4.15" fill="#008000"/>
<rect x="498.1" y="408.85" width="2.4" height="2.75" fill="#ff0000"/>
<rect x="502.8" y="403.9" width="2.4" height="4.95" fill="#008000"/>
<rect x="502.8" y="408.68" width="2.4" height="0.9" fill="#ff0000"/>
<rect x="507.5" y="404.7" width="2.4" height="4.15" fill="#ff0000"/>
<rect x="507.5" y="408.82" width="2.4" height="0.9" fill="#008000"/>
<rect x="512.2" y="406.4" width="2.4" height="2.45" fill="#ff0000"/>
<rect x="512.2" y="408.68" width="2.4" height="0.9" fill="#ff0000"/>
<rect x="516.9" y="408.03" width="2.4" height="0.9" fill="#ff0000"/>
<rect x="516.9" y="408.85" width="2.4" height="3.35" fill="#008000"/>
<rect x="521.6" y="408.03" width="2.4" height="0.9" fill="#ff0000"/>
<rect x="521.6" y="408.85" width="2.4" height="6.85" fill="#008000"/>
<rect x="526.3" y="406.4" width="2.4" height="2.45" fill="#008000"/>
<rect x="526.3" y="408.85" width="2.4" height="9.05" fill="#008000"/>
<rect x="531" y="403" width="2.4" height="5.85" fill="#008000"/>
<rect x="531" y="408.85" width="2.4" height="9.05" fill="#ff0000"/>
<rect x="535.7" y="400.6" width="2.4" height="8.25" fill="#008000"/>
<rect x="535.7" y="408.85" width="2.4" height="7.95" fill="#ff0000"/>
<rect x="540.4" y="399.5" width="2.4" height="9.35" fill="#008000"/>
<rect x="540.4" y="408.85" width="2.4" height="7.95" fill="#ff0000"/>
<rect x="545.1" y="399.5" width="2.4" height="9.35" fill="#ff0000"/>
<rect x="545.1" y="408.85" width="2.4" height="7.95" fill="#008000"/>
<rect x="549.8" y="400" width="2.4" height="8.85" fill="#ff0000"/>
<rect x="549.8" y="408.85" width="2.4" height="9.05" fill="#008000"/>
<rect x="554.5" y="399.5" width="2.4" height="9.35" fill="#008000"/>
<rect x="554.5" y="408.85" width="2.4" height="12.15" fill="#008000"/>
<rect x="559.2" y="398.9" width="2.4" height="9.95" fill="#008000"/>
<rect x="559.2" y="408.85" width="2.4" height="12.15" fill="#008000"/>
<rect x="563.9" y="397.1" width="2.4" height="11.75" fill="#008000"/>
<rect x="563.9" y="408.85" width="2.4" height="11.65" fill="#ff0000"/>
<rect x="568.6" y="396" width="2.4" height="12.85" fill="#008000"/>
<rect x="568.6" y="408.85" width="2.4" height="8.95" fill="#ff0000"/>
<rect x="573.3" y="396" width="2.4" height="12.85" fill="#008000"/>
<rect x="573.3" y="408.85" width="2.4" height="8.45" fill="#ff0000"/>
<rect x="578" y="396.6" width="2.4" height="12.25" fill="#ff0000"/>
<rect x="578" y="408.85" width="2.4" height="7.35" fill="#ff0000"/>
<rect x="582.7" y="397.1" width="2.4" height="11.75" fill="#ff0000"/>
<rect x="582.7" y="408.85" width="2.4" height="7.35" fill="#008000"/>
<rect x="587.4" y="397.8" width="2.4" height="11.05" fill="#ff0000"/>
<rect x="587.4" y="408.85" width="2.4" height="7.35" fill="#008000"/>
<rect x="592.1" y="397.8" width="2.4" height="11.05" fill="#008000"/>
<rect x="592.1" y="408.85" width="2.4" height="5.95" fill="#ff0000"/>
<rect x="596.8" y="397.8" width="2.4" height="11.05" fill="#ff0000"/>
<rect x="596.8" y="408.85" width="2.4" height="5.95" fill="#ff0000"/>
<rect x="601.5" y="397.8" width="2.4" height="11.05" fill="#ff0000"/>
<rect x="601.5" y="408.85" width="2.4" height="7.35" fill="#008000"/>
<rect x="606.2" y="398.2" width="2.4" height="10.65" fill="#ff0000"/>
<rect x="606.2" y="408.85" width="2.4" height="7.35" fill="#008000"/>
<rect x="610.9" y="397.8" width="2.4" height="11.05" fill="#008000"/>
<rect x="610.9" y="408.85" width="2.4" height="6.85" fill="#ff0000"/>
<rect x="615.6" y="397.8" width="2.4" height="11.05" fill="#008000"/>
<rect x="615.6" y="408.85" width="2.4" height="6.15" fill="#ff0000"/>
<rect x="620.3" y="397.8" width="2.4" height="11.05" fill="#008000"/>
<rect x="620.3" y="408.85" width="2.4" height="4.85" fill="#ff0000"/>
<rect x="625" y="398.2" width="2.4" height="10.65" fill="#ff0000"/>
<rect x="625" y="408.85" width="2.4" height="4.45" fill="#ff0000"/>
<rect x="629.7" y="398.9" width="2.4" height="9.95" fill="#ff0000"/>
<rect x="629.7" y="408.85" width="2.4" height="3.95" fill="#ff0000"/>
<rect x="634.4" y="399.7" width="2.4" height="9.15" fill="#ff0000"/>
<rect x="634.4" y="408.57" width="2.4" height="0.9" fill="#ff0000"/>
<rect x="639.1" y="400.8" width="2.4" height="8.05" fill="#ff0000"/>
<rect x="639.1" y="408.85" width="2.4" height="2.05" fill="#008000"/>
<rect x="643.8" y="403" width="2.4" height="5.85" fill="#ff0000"/>
<rect x="643.8" y="408.85" width="2.4" height="1.65" fill="#ff0000"/>
<rect x="648.5" y="405.3" width="2.4" height="3.55" fill="#ff0000"/>
<rect x="648.5" y="408.57" width="2.4" height="0.9" fill="#ff0000"/>
<rect x="653.2" y="406.1" width="2.4" height="2.75" fill="#ff0000"/>
<rect x="653.2" y="408.85" width="2.4" height="1.65" fill="#008000"/>
<rect x="657.9" y="406.1" width="2.4" height="2.75" fill="#008000"/>
<rect x="657.9" y="408.85" width="2.4" height="2.75" fill="#008000"/>
<rect x="662.6" y="406.4" width="2.4" height="2.45" fill="#ff0000"/>
<rect x="662.6" y="408.85" width="2.4" height="2.05" fill="#ff0000"/>
<rect x="667.3" y="407.98" width="2.4" height="0.9" fill="#ff0000"/>
<rect x="672" y="407.98" width="2.4" height="0.9" fill="#ff0000"/>
</g>
<rect x="2" y="81.0" width="722" height="0.9" fill="#e44a52"/>
<g>
<rect x="1.05" y="72.5" width="0.7" height="6.25" fill="#000"/>
<rect x="0.22" y="72.8" width="2.35" height="5.65" fill="#fff" stroke="#000" stroke-width="0.6"/>
<rect x="5.75" y="59.4" width="0.7" height="13.35" fill="#000"/>
<rect x="4.92" y="61.3" width="2.35" height="10.3" fill="#fff" stroke="#000" stroke-width="0.6"/>
<rect x="10.45" y="55.25" width="0.7" height="7.25" fill="#000"/>
<rect x="9.63" y="56.8" width="2.35" height="4.15" fill="#fff" stroke="#000" stroke-width="0.6"/>
<rect x="15.15" y="52.9" width="0.7" height="9" fill="#000"/>
<rect x="14.33" y="54.4" width="2.35" height="1.55" fill="#fff" stroke="#000" stroke-width="0.6"/>
<rect x="19.85" y="41.25" width="0.7" height="14.75" fill="#000"/>
<rect x="19.03" y="42.2" width="2.35" height="11" fill="#fff" stroke="#000" stroke-width="0.6"/>
<rect x="24.55" y="41.25" width="0.7" height="15.65" fill="#000"/>
<rect x="23.42" y="42.5" width="2.95" height="6.25" fill="#000"/>
<rect x="29.25" y="22.5" width="0.7" height="20" fill="#000"/>
<rect x="28.12" y="23.6" width="2.95" height="0.8" fill="#000"/>
<rect x="33.95" y="-3" width="0.7" height="27.6" fill="#000"/>
<rect x="33.12" y="-2.7" width="2.35" height="27" fill="#fff" stroke="#000" stroke-width="0.6"/>
<rect x="38.65" y="-3" width="0.7" height="14.9" fill="#000"/>
<rect x="37.52" y="-3" width="2.95" height="9.25" fill="#000"/>
<rect x="43.35" y="3.5" width="0.7" height="9.6" fill="#000"/>
<rect x="42.23" y="6" width="2.95" height="6.5" fill="#000"/>
<rect x="48.05" y="11" width="0.7" height="23.4" fill="#000"/>
<rect x="46.93" y="11.9" width="2.95" height="17.85" fill="#000"/>
<rect x="52.75" y="24.4" width="0.7" height="16.2" fill="#000"/>
<rect x="51.62" y="29.4" width="2.95" height="10.6" fill="#000"/>
<rect x="57.45" y="34" width="0.7" height="17.25" fill="#000"/>
<rect x="56.33" y="40" width="2.95" height="7.5" fill="#000"/>
<rect x="62.15" y="52.9" width="0.7" height="33.35" fill="#000"/>
<rect x="61.03" y="52.9" width="2.95" height="28.35" fill="#000"/>
<rect x="66.85" y="73.5" width="0.7" height="46.4" fill="#000"/>
<rect x="65.73" y="81.25" width="2.95" height="25.75" fill="#000"/>
<rect x="71.55" y="104" width="0.7" height="22.75" fill="#000"/>
<rect x="70.42" y="107" width="2.95" height="8.75" fill="#000"/>
<rect x="76.25" y="110.25" width="0.7" height="21.5" fill="#000"/>
<rect x="75.42" y="111.4" width="2.35" height="4.8" fill="#fff" stroke="#000" stroke-width="0.6"/>
<rect x="80.95" y="107.4" width="0.7" height="16.2" fill="#000"/>
<rect x="80.12" y="109.8" width="2.35" height="1.65" fill="#fff" stroke="#000" stroke-width="0.6"/>
<rect x="85.65" y="101.75" width="0.7" height="8.95" fill="#000"/>
<rect x="84.83" y="106.6" width="2.35" height="3.8" fill="#fff" stroke="#000" stroke-width="0.6"/>
<rect x="90.35" y="105.8" width="0.7" height="10.5" fill="#000"/>
<rect x="89.23" y="105.8" width="2.95" height="8.4" fill="#000"/>
<rect x="95.05" y="108.75" width="0.7" height="22.65" fill="#000"/>
<rect x="93.92" y="119.1" width="2.95" height="10.9" fill="#000"/>
<rect x="99.75" y="113.1" width="0.7" height="23.5" fill="#000"/>
<rect x="98.62" y="129.1" width="2.95" height="3.15" fill="#000"/>
<rect x="104.45" y="123.8" width="0.7" height="27.8" fill="#000"/>
<rect x="103.33" y="131.6" width="2.95" height="14.15" fill="#000"/>
<rect x="109.15" y="113.25" width="0.7" height="35.5" fill="#000"/>
<rect x="108.33" y="114.4" width="2.35" height="31.3" fill="#fff" stroke="#000" stroke-width="0.6"/>
<rect x="113.85" y="104.5" width="0.7" height="19" fill="#000"/>
<rect x="113.03" y="105.7" width="2.35" height="8.75" fill="#fff" stroke="#000" stroke-width="0.6"/>
<rect x="118.55" y="98.25" width="0.7" height="9" fill="#000"/>
<rect x="117.73" y="105.7" width="2.35" height="0.6" fill="#fff" stroke="#000" stroke-width="0.6"/>
<rect x="123.25" y="98.5" width="0.7" height="23.1" fill="#000"/>
<rect x="122.12" y="106" width="2.95" height="13.75" fill="#000"/>
<rect x="127.95" y="114.75" width="0.7" height="21.85" fill="#000"/>
<rect x="127.13" y="118.55" width="2.35" height="9.65" fill="#fff" stroke="#000" stroke-width="0.6"/>
<rect x="132.65" y="103.75" width="0.7" height="35" fill="#000"/>
<rect x="131.53" y="118.25" width="2.95" height="20.5" fill="#000"/>
<rect x="137.35" y="131.6" width="0.7" height="19.4" fill="#000"/>
<rect x="136.53" y="131.9" width="2.35" height="5.3" fill="#fff" stroke="#000" stroke-width="0.6"/>
<rect x="142.05" y="109.75" width="0.7" height="22.15" fill="#000"/>
<rect x="141.23" y="117.55" width="2.35" height="14.05" fill="#fff" stroke="#000" stroke-width="0.6"/>
<rect x="146.75" y="105" width="0.7" height="15.4" fill="#000"/>
<rect x="145.62" y="116" width="2.95" height="3.1" fill="#000"/>
<rect x="151.45" y="112" width="0.7" height="8.4" fill="#000"/>
<rect x="150.33" y="117.25" width="2.95" height="3.15" fill="#000"/>
<rect x="156.15" y="119.1" width="0.7" height="19.4" fill="#000"/>
<rect x="155.03" y="119.4" width="2.95" height="17.1" fill="#000"/>
<rect x="160.85" y="138.6" width="0.7" height="17.2" fill="#000"/>
<rect x="159.72" y="144.25" width="2.95" height="10.55" fill="#000"/>
<rect x="165.55" y="150.3" width="0.7" height="24.1" fill="#000"/>
<rect x="164.43" y="154.75" width="2.95" height="5.25" fill="#000"/>
<rect x="170.25" y="135.7" width="0.7" height="24.3" fill="#000"/>
<rect x="169.43" y="147.7" width="2.35" height="12" fill="#fff" stroke="#000" stroke-width="0.6"/>
<rect x="174.95" y="145.1" width="0.7" height="21.4" fill="#000"/>
<rect x="173.83" y="147.9" width="2.95" height="17.6" fill="#000"/>
<rect x="179.65" y="151.25" width="0.7" height="23.15" fill="#000"/>
<rect x="178.83" y="154.7" width="2.35" height="10.4" fill="#fff" stroke="#000" stroke-width="0.6"/>
<rect x="184.35" y="153.1" width="0.7" height="9.15" fill="#000"/>
<rect x="183.22" y="153.75" width="2.95" height="3.15" fill="#000"/>
<rect x="189.05" y="155" width="0.7" height="9.4" fill="#000"/>
<rect x="187.93" y="156" width="2.95" height="4.6" fill="#000"/>
<rect x="193.75" y="142.5" width="0.7" height="19.4" fill="#000"/>
<rect x="192.93" y="145.05" width="2.35" height="11.9" fill="#fff" stroke="#000" stroke-width="0.6"/>
<rect x="198.45" y="130.25" width="0.7" height="27.5" fill="#000"/>
<rect x="197.63" y="130.55" width="2.35" height="14.4" fill="#fff" stroke="#000" stroke-width="0.6"/>
<rect x="203.15" y="122.25" width="0.7" height="12.15" fill="#000"/>
<rect x="202.33" y="128.4" width="2.35" height="2.3" fill="#fff" stroke="#000" stroke-width="0.6"/>
<rect x="207.85" y="124.4" width="0.7" height="9.35" fill="#000"/>
<rect x="206.72" y="129" width="2.95" height="2" fill="#000"/>
<rect x="212.55" y="125.6" width="0.7" height="11.9" fill="#000"/>
<rect x="211.43" y="130.8" width="2.95" height="4.6" fill="#000"/>
<rect x="217.25" y="131" width="0.7" height="10.9" fill="#000"/>
<rect x="216.12" y="135" width="2.95" height="5.8" fill="#000"/>
<rect x="221.95" y="136.9" width="0.7" height="8.7" fill="#000"/>
<rect x="221.13" y="137.8" width="2.35" height="2.4" fill="#fff" stroke="#000" stroke-width="0.6"/>
<rect x="226.65" y="132.5" width="0.7" height="20" fill="#000"/>
<rect x="225.83" y="133.7" width="2.35" height="12.25" fill="#fff" stroke="#000" stroke-width="0.6"/>
<rect x="231.35" y="109.4" width="0.7" height="29.35" fill="#000"/>
<rect x="230.53" y="131.1" width="2.35" height="2" fill="#fff" stroke="#000" stroke-width="0.6"/>
<rect x="236.05" y="128.5" width="0.7" height="19.6" fill="#000"/>
<rect x="234.93" y="131.9" width="2.95" height="16.2" fill="#000"/>
<rect x="240.75" y="139.4" width="0.7" height="10" fill="#000"/>
<rect x="239.93" y="146.4" width="2.35" height="2.05" fill="#fff" stroke="#000" stroke-width="0.6"/>
<rect x="245.45" y="146.9" width="0.7" height="11.2" fill="#000"/>
<rect x="244.33" y="146.9" width="2.95" height="9.35" fill="#000"/>
<rect x="250.15" y="148.1" width="0.7" height="11.3" fill="#000"/>
<rect x="249.03" y="155.6" width="2.95" height="2.5" fill="#000"/>
<rect x="254.85" y="154.4" width="0.7" height="5" fill="#000"/>
<rect x="254.03" y="155.9" width="2.35" height="2.55" fill="#fff" stroke="#000" stroke-width="0.6"/>
<rect x="259.55" y="147.5" width="0.7" height="21.9" fill="#000"/>
<rect x="258.73" y="152.8" width="2.35" height="14.15" fill="#fff" stroke="#000" stroke-width="0.6"/>
<rect x="264.25" y="145" width="0.7" height="19.4" fill="#000"/>
<rect x="263.12" y="152.2" width="2.95" height="0.8" fill="#000"/>
<rect x="268.95" y="137.25" width="0.7" height="20.25" fill="#000"/>
<rect x="268.12" y="146.3" width="2.35" height="5.9" fill="#fff" stroke="#000" stroke-width="0.6"/>
<rect x="273.65" y="140" width="0.7" height="24.4" fill="#000"/>
<rect x="272.53" y="146.25" width="2.95" height="15" fill="#000"/>
<rect x="278.35" y="150" width="0.7" height="13.1" fill="#000"/>
<rect x="277.53" y="150.3" width="2.35" height="9.65" fill="#fff" stroke="#000" stroke-width="0.6"/>
<rect x="283.05" y="145.6" width="0.7" height="13.8" fill="#000"/>
<rect x="281.93" y="149.7" width="2.95" height="4.3" fill="#000"/>
<rect x="287.75" y="152.5" width="0.7" height="8.75" fill="#000"/>
<rect x="286.62" y="153.5" width="2.95" height="0.8" fill="#000"/>
<rect x="292.45" y="185.25" width="0.7" height="31.25" fill="#000"/>
<rect x="291.32" y="185.4" width="2.95" height="31.1" fill="#000"/>
<rect x="297.15" y="205.6" width="0.7" height="16.4" fill="#000"/>
<rect x="296.33" y="213.8" width="2.35" height="3.4" fill="#fff" stroke="#000" stroke-width="0.6"/>
<rect x="301.85" y="213" width="0.7" height="23" fill="#000"/>
<rect x="300.73" y="213" width="2.95" height="13.4" fill="#000"/>
<rect x="306.55" y="221.9" width="0.7" height="13.1" fill="#000"/>
<rect x="305.73" y="222.7" width="2.35" height="3.5" fill="#fff" stroke="#000" stroke-width="0.6"/>
<rect x="311.25" y="217.25" width="0.7" height="10" fill="#000"/>
<rect x="310.12" y="222.8" width="2.95" height="0.8" fill="#000"/>
<rect x="315.95" y="220" width="0.7" height="19.75" fill="#000"/>
<rect x="314.82" y="224" width="2.95" height="15.75" fill="#000"/>
<rect x="320.65" y="239.5" width="0.7" height="9" fill="#000"/>
<rect x="319.53" y="239.5" width="2.95" height="7.75" fill="#000"/>
<rect x="325.35" y="211" width="0.7" height="38.5" fill="#000"/>
<rect x="324.53" y="211.3" width="2.35" height="37.9" fill="#fff" stroke="#000" stroke-width="0.6"/>
<rect x="330.05" y="209" width="0.7" height="34.5" fill="#000"/>
<rect x="328.93" y="212" width="2.95" height="7.5" fill="#000"/>
<rect x="334.75" y="219.2" width="0.7" height="12.4" fill="#000"/>
<rect x="333.62" y="219.2" width="2.95" height="10.3" fill="#000"/>
<rect x="339.45" y="222.7" width="0.7" height="9.55" fill="#000"/>
<rect x="338.32" y="228.1" width="2.95" height="0.8" fill="#000"/>
<rect x="344.15" y="218.6" width="0.7" height="11.6" fill="#000"/>
<rect x="343.33" y="221" width="2.35" height="7.7" fill="#fff" stroke="#000" stroke-width="0.6"/>
<rect x="348.85" y="212.9" width="0.7" height="9.3" fill="#000"/>
<rect x="348.03" y="218.9" width="2.35" height="3" fill="#fff" stroke="#000" stroke-width="0.6"/>
<rect x="353.55" y="214.2" width="0.7" height="5.4" fill="#000"/>
<rect x="352.73" y="214.5" width="2.35" height="4.8" fill="#fff" stroke="#000" stroke-width="0.6"/>
<rect x="358.25" y="180" width="0.7" height="8.6" fill="#000"/>
<rect x="357.43" y="184.05" width="2.35" height="2.85" fill="#fff" stroke="#000" stroke-width="0.6"/>
<rect x="362.95" y="138.1" width="0.7" height="45" fill="#000"/>
<rect x="362.12" y="139.7" width="2.35" height="43.1" fill="#fff" stroke="#000" stroke-width="0.6"/>
<rect x="367.65" y="136.9" width="0.7" height="23.7" fill="#000"/>
<rect x="366.53" y="140" width="2.95" height="15.6" fill="#000"/>
<rect x="372.35" y="150.6" width="0.7" height="11.3" fill="#000"/>
<rect x="371.53" y="152.2" width="2.35" height="2.5" fill="#fff" stroke="#000" stroke-width="0.6"/>
<rect x="377.05" y="144" width="0.7" height="8.5" fill="#000"/>
<rect x="376.23" y="144.3" width="2.35" height="7.9" fill="#fff" stroke="#000" stroke-width="0.6"/>
<rect x="381.75" y="139" width="0.7" height="11.6" fill="#000"/>
<rect x="380.62" y="144.4" width="2.95" height="6.2" fill="#000"/>
<rect x="386.45" y="131.25" width="0.7" height="20.25" fill="#000"/>
<rect x="385.62" y="137.4" width="2.35" height="12.3" fill="#fff" stroke="#000" stroke-width="0.6"/>
<rect x="391.15" y="105" width="0.7" height="25" fill="#000"/>
<rect x="390.33" y="109.05" width="2.35" height="12.55" fill="#fff" stroke="#000" stroke-width="0.6"/>
<rect x="395.85" y="90" width="0.7" height="50.6" fill="#000"/>
<rect x="394.73" y="109.4" width="2.95" height="13.35" fill="#000"/>
<rect x="400.55" y="111.25" width="0.7" height="27.75" fill="#000"/>
<rect x="399.43" y="122.75" width="2.95" height="15.75" fill="#000"/>
<rect x="405.25" y="129.4" width="0.7" height="17.5" fill="#000"/>
<rect x="404.43" y="134.7" width="2.35" height="3.75" fill="#fff" stroke="#000" stroke-width="0.6"/>
<rect x="409.95" y="129" width="0.7" height="15.4" fill="#000"/>
<rect x="409.12" y="131.55" width="2.35" height="2.15" fill="#fff" stroke="#000" stroke-width="0.6"/>
<rect x="414.65" y="121.25" width="0.7" height="12.5" fill="#000"/>
<rect x="413.83" y="128.8" width="2.35" height="2.15" fill="#fff" stroke="#000" stroke-width="0.6"/>
<rect x="419.35" y="120" width="0.7" height="11.25" fill="#000"/>
<rect x="418.23" y="127.35" width="2.95" height="0.8" fill="#000"/>
<rect x="424.05" y="126.9" width="0.7" height="72.5" fill="#000"/>
<rect x="422.93" y="127" width="2.95" height="64.7" fill="#000"/>
<rect x="428.75" y="164.4" width="0.7" height="31.85" fill="#000"/>
<rect x="427.93" y="168.8" width="2.35" height="22.15" fill="#fff" stroke="#000" stroke-width="0.6"/>
<rect x="433.45" y="159.4" width="0.7" height="20.6" fill="#000"/>
<rect x="432.32" y="168.1" width="2.95" height="8.8" fill="#000"/>
<rect x="438.15" y="167.5" width="0.7" height="12.5" fill="#000"/>
<rect x="437.03" y="176" width="2.95" height="0.8" fill="#000"/>
<rect x="442.85" y="170.6" width="0.7" height="11.3" fill="#000"/>
<rect x="441.73" y="176.25" width="2.95" height="4.35" fill="#000"/>
<rect x="447.55" y="181" width="0.7" height="5.9" fill="#000"/>
<rect x="446.43" y="181" width="2.95" height="4.6" fill="#000"/>
<rect x="452.25" y="171.5" width="0.7" height="16.6" fill="#000"/>
<rect x="451.43" y="182.8" width="2.35" height="2.5" fill="#fff" stroke="#000" stroke-width="0.6"/>
<rect x="456.95" y="160" width="0.7" height="23.1" fill="#000"/>
<rect x="456.13" y="168.4" width="2.35" height="12.8" fill="#fff" stroke="#000" stroke-width="0.6"/>
<rect x="461.65" y="140.25" width="0.7" height="34.15" fill="#000"/>
<rect x="460.83" y="143.05" width="2.35" height="25.15" fill="#fff" stroke="#000" stroke-width="0.6"/>
<rect x="466.35" y="137.5" width="0.7" height="25" fill="#000"/>
<rect x="465.53" y="140.55" width="2.35" height="2.15" fill="#fff" stroke="#000" stroke-width="0.6"/>
<rect x="471.05" y="130.9" width="0.7" height="13.7" fill="#000"/>
<rect x="470.23" y="134.3" width="2.35" height="6.65" fill="#fff" stroke="#000" stroke-width="0.6"/>
<rect x="475.75" y="134" width="0.7" height="8.1" fill="#000"/>
<rect x="474.62" y="134.6" width="2.95" height="5.65" fill="#000"/>
<rect x="480.45" y="135.25" width="0.7" height="13.15" fill="#000"/>
<rect x="479.33" y="139" width="2.95" height="2.5" fill="#000"/>
<rect x="485.15" y="138.4" width="0.7" height="21.6" fill="#000"/>
<rect x="484.03" y="141.25" width="2.95" height="14.35" fill="#000"/>
<rect x="489.85" y="149" width="0.7" height="28.75" fill="#000"/>
<rect x="488.73" y="149" width="2.95" height="19.1" fill="#000"/>
<rect x="494.55" y="150.25" width="0.7" height="36" fill="#000"/>
<rect x="493.73" y="163.8" width="2.35" height="5.3" fill="#fff" stroke="#000" stroke-width="0.6"/>
<rect x="499.25" y="134.2" width="0.7" height="34.55" fill="#000"/>
<rect x="498.43" y="140.3" width="2.35" height="22.5" fill="#fff" stroke="#000" stroke-width="0.6"/>
<rect x="503.95" y="122.5" width="0.7" height="17" fill="#000"/>
<rect x="503.13" y="122.8" width="2.35" height="16.4" fill="#fff" stroke="#000" stroke-width="0.6"/>
<rect x="508.65" y="95" width="0.7" height="33.3" fill="#000"/>
<rect x="507.83" y="102.1" width="2.35" height="20.3" fill="#fff" stroke="#000" stroke-width="0.6"/>
<rect x="513.35" y="97.25" width="0.7" height="14.15" fill="#000"/>
<rect x="512.23" y="102" width="2.95" height="0.8" fill="#000"/>
<rect x="518.05" y="99.5" width="0.7" height="21" fill="#000"/>
<rect x="516.93" y="102.6" width="2.95" height="11.3" fill="#000"/>
<rect x="522.75" y="102.6" width="0.7" height="20" fill="#000"/>
<rect x="521.62" y="108.2" width="2.95" height="8.8" fill="#000"/>
<rect x="527.45" y="96.4" width="0.7" height="25" fill="#000"/>
<rect x="526.62" y="115.8" width="2.35" height="1.9" fill="#fff" stroke="#000" stroke-width="0.6"/>
<rect x="532.15" y="93.5" width="0.7" height="24.1" fill="#000"/>
<rect x="531.32" y="96.7" width="2.35" height="19.4" fill="#fff" stroke="#000" stroke-width="0.6"/>
<rect x="536.85" y="79.3" width="0.7" height="28.2" fill="#000"/>
<rect x="536.02" y="84.7" width="2.35" height="11.4" fill="#fff" stroke="#000" stroke-width="0.6"/>
<rect x="541.55" y="66.1" width="0.7" height="31.4" fill="#000"/>
<rect x="540.73" y="71.8" width="2.35" height="12.3" fill="#fff" stroke="#000" stroke-width="0.6"/>
<rect x="546.25" y="68.75" width="0.7" height="13.15" fill="#000"/>
<rect x="545.12" y="71.8" width="2.95" height="3.9" fill="#000"/>
<rect x="550.95" y="74.8" width="0.7" height="19.6" fill="#000"/>
<rect x="549.83" y="74.8" width="2.95" height="18.7" fill="#000"/>
<rect x="555.65" y="77.7" width="0.7" height="19.2" fill="#000"/>
<rect x="554.82" y="80.6" width="2.35" height="11" fill="#fff" stroke="#000" stroke-width="0.6"/>
<rect x="560.35" y="63" width="0.7" height="37" fill="#000"/>
<rect x="559.23" y="80.5" width="2.95" height="8.5" fill="#000"/>
<rect x="565.05" y="78.6" width="0.7" height="23.9" fill="#000"/>
<rect x="564.23" y="87.2" width="2.35" height="2.25" fill="#fff" stroke="#000" stroke-width="0.6"/>
<rect x="569.75" y="63" width="0.7" height="25.75" fill="#000"/>
<rect x="568.92" y="73.5" width="2.35" height="13.95" fill="#fff" stroke="#000" stroke-width="0.6"/>
<rect x="574.45" y="70.2" width="0.7" height="19.2" fill="#000"/>
<rect x="573.33" y="73.4" width="2.95" height="3.85" fill="#000"/>
<rect x="579.15" y="74.9" width="0.7" height="12.85" fill="#000"/>
<rect x="578.02" y="76.8" width="2.95" height="1.95" fill="#000"/>
<rect x="583.85" y="69.9" width="0.7" height="11.9" fill="#000"/>
<rect x="583.02" y="75.6" width="2.35" height="3.3" fill="#fff" stroke="#000" stroke-width="0.6"/>
<rect x="588.55" y="53.5" width="0.7" height="22.5" fill="#000"/>
<rect x="587.43" y="62.25" width="2.95" height="3.75" fill="#000"/>
<rect x="593.25" y="54.75" width="0.7" height="23.75" fill="#000"/>
<rect x="592.42" y="64.4" width="2.35" height="1.9" fill="#fff" stroke="#000" stroke-width="0.6"/>
<rect x="597.95" y="54.75" width="0.7" height="22.5" fill="#000"/>
<rect x="596.83" y="64.1" width="2.95" height="1.9" fill="#000"/>
<rect x="602.65" y="54.75" width="0.7" height="23.75" fill="#000"/>
<rect x="601.52" y="65.75" width="2.95" height="12.15" fill="#000"/>
<rect x="607.35" y="66" width="0.7" height="15" fill="#000"/>
<rect x="606.52" y="70.7" width="2.35" height="6.9" fill="#fff" stroke="#000" stroke-width="0.6"/>
<rect x="612.05" y="64.75" width="0.7" height="12.5" fill="#000"/>
<rect x="610.93" y="70.75" width="2.95" height="3.35" fill="#000"/>
<rect x="616.75" y="62.9" width="0.7" height="20" fill="#000"/>
<rect x="615.62" y="74.1" width="2.95" height="3.15" fill="#000"/>
<rect x="621.45" y="89.7" width="0.7" height="24.9" fill="#000"/>
<rect x="620.33" y="89.7" width="2.95" height="17.8" fill="#000"/>
<rect x="626.15" y="88.9" width="0.7" height="26.35" fill="#000"/>
<rect x="625.32" y="95.4" width="2.35" height="12.7" fill="#fff" stroke="#000" stroke-width="0.6"/>
<rect x="630.85" y="78.5" width="0.7" height="16.2" fill="#000"/>
<rect x="630.02" y="79.4" width="2.35" height="15" fill="#fff" stroke="#000" stroke-width="0.6"/>
<rect x="635.55" y="80.5" width="0.7" height="18.5" fill="#000"/>
<rect x="634.43" y="81.6" width="2.95" height="9.9" fill="#000"/>
<rect x="640.25" y="87.5" width="0.7" height="22.1" fill="#000"/>
<rect x="639.12" y="91.1" width="2.95" height="16.4" fill="#000"/>
<rect x="644.95" y="99.9" width="0.7" height="8.1" fill="#000"/>
<rect x="644.12" y="104.3" width="2.35" height="3.4" fill="#fff" stroke="#000" stroke-width="0.6"/>
<rect x="649.65" y="76" width="0.7" height="34.25" fill="#000"/>
<rect x="648.82" y="81.9" width="2.35" height="21.8" fill="#fff" stroke="#000" stroke-width="0.6"/>
</g>
<path d="M1.3,63.3 L4.3,67.9 L6.25,70.8 L12.5,80 L18.75,86.9 L25,92.5 L28.75,95.75 L33.75,96.5 L38.75,95.25 L43.75,93 L50,89.9 L52.5,88.1 L62.5,82.5 L67.5,78.1 L72.5,71.25 L77.5,65 L82.5,61.25 L87.5,58.5 L94,56.5 L99,56.6 L104,60.6 L109,65 L115.25,70 L121.5,74 L127.75,76.9 L132.75,80.6 L137.75,85 L144,90 L146.5,91.6 L152.75,93.9 L159,95.4 L165.25,97.25 L171.5,100 L175,102.5 L181.25,104.4 L187.5,105.6 L193.75,108.1 L200,112.5 L206.25,116.9 L212.5,120.25 L218.75,124.4 L225,128.1 L230,130.25 L236.25,131.25 L241.5,130.6 L249,130.6 L256.5,132.25 L264,132.9 L271.5,132.5 L277.75,133.1 L284,135.25 L290.25,137.25 L296.5,139.75 L302.75,140.6 L309,141.9 L315.25,143.1 L321.5,144 L325.9,145.4 L328,147.5 L334,153 L340,159.4 L346.25,166.25 L352.5,173.1 L358.75,180 L365,184.75 L371.25,188.75 L377.5,192.5 L383.75,196 L390,197.75 L395,197.25 L401.25,194.4 L407.5,190 L413.75,185.6 L420,181.9 L425,178.1 L430,172.5 L435,168.1 L441.25,165 L447.5,162.5 L453.75,158.75 L458.75,156.9 L463.75,157.75 L470,159.75 L476.25,161.9 L482.5,163.1 L488.75,164.4 L495,165 L500,164 L506.25,162.1 L512.5,159.6 L518.75,158.1 L525,157.5 L531.25,158 L537.5,158 L542.5,155.9 L548.75,150.9 L555,146.5 L561.25,143.4 L567.5,140.25 L573.75,135.9 L580,130.9 L587.5,124.6 L594,120.5 L600,117.1 L606.25,113.4 L612.5,109.6 L618.75,106.5 L625,103.4 L631.25,99.6 L637.5,96.25 L643.75,93 L650,90.9 L655,90.25 L660,91 L666.25,91.6 L672.5,91.25 L677.5,91.6 L681.25,92.9 L687.5,92.9" fill="none" stroke="#0a4ae0" stroke-width="1.32" stroke-linejoin="round" stroke-linecap="butt"/>
<path d="M1.5,119.1 L6.25,122.4 L12.5,125.8 L14.5,126.2 L16.25,125.8 L20.6,122 L25,117.8 L30,111.9 L35,105.3 L38.75,100.3 L42.5,94.25 L45,91.25 L51.25,83.75 L56.25,75 L61.25,64.4 L66.25,55 L71.25,50.6 L76.25,48.5 L81.25,48.1 L86.25,50.8 L90.25,56.25 L95.25,63.75 L100.25,71.25 L105.25,76.9 L110.25,81.25 L115.25,85.4 L121.5,91 L127.75,97.25 L133.4,102.9 L140.25,103.75 L146.5,105 L151.5,107.25 L156.5,109.75 L161.5,113.5 L169,113.9 L175,114 L180,116 L185,120 L190,125 L196.25,129.6 L202.5,134 L208.75,138.4 L213.75,141.2 L218.75,142.1 L225,140.6 L231.25,139 L237.5,138.1 L241.5,138.1 L249,138.1 L256.5,137.25 L264,137.75 L270.25,140 L276.5,142.75 L284,145.6 L291.5,146.9 L299,147.5 L306.5,148.4 L311.5,149.5 L315.25,155 L320.25,162 L321.5,165 L328,174.4 L331.25,180 L336.25,185 L341.25,190.6 L345,196.25 L350,200.6 L356.25,205 L362.5,208.75 L367.5,211 L372.5,211.25 L374,210.6 L380,207.3 L387.5,202 L392.5,194.4 L398.75,187.5 L405,181 L410,176.25 L413.75,171.25 L417.5,164.4 L421.25,159.8 L426.25,156.5 L432.5,153.6 L437.5,149.6 L442.5,146.75 L446.25,147.75 L451.25,151.5 L453.75,153.75 L460,156.25 L466.25,159.4 L472.5,162.5 L478.75,164.4 L485,165 L490,163.5 L495,160.6 L500,157.2 L505,155 L511.25,154.25 L517.5,156.25 L522.5,156.75 L527.5,154 L532.5,148.4 L537.5,142.1 L543.75,136.5 L550,132.1 L556.25,127.75 L562.75,122 L567.75,115.75 L572.75,110.75 L577.75,107.6 L582.75,105.1 L588,103 L594,99.8 L600,96.3 L606.25,93.3 L612.5,89 L618.75,85 L625,82 L631.25,80.4 L637.5,78.75 L641.25,78.5 L646.25,81 L652.5,84.1 L658.75,86 L665,88.25 L670,89.5 L673.75,89.1" fill="none" stroke="#ff0000" stroke-width="1.32" stroke-linejoin="round" stroke-linecap="butt"/>
<path d="M1.5,141.9 L6.2,141.9 L12.5,128 L14.06,124.8 L18.75,113.9 L21.9,106.9 L25,100.8 L30,91.75 L36.25,81.25 L42.5,69.4 L47.5,58.75 L52.5,47.5 L55,41.25 L60,35.6 L65,33.5 L70,34 L73.75,36.5 L77.5,43.75 L80,50.5 L85,63.75 L86.5,66.9 L90.25,76.25 L94,83.1 L96.5,86.25 L101.5,91 L107.75,97.9 L112.75,103.5 L117.1,109.75 L120.25,112.9 L125.25,114.5 L130.25,113.9 L136.5,112.5 L140.25,113.5 L145.25,116.25 L151.5,119.75 L157.75,120 L164,119.1 L169,119.75 L172.75,122.9 L176.5,126.6 L178.75,130.5 L181.25,133.75 L187.5,138.75 L193.75,144 L200,147.75 L205,149.4 L211.25,149.4 L215,147.5 L220,143.1 L225,140.6 L231.25,139.2 L235,139 L239,139.4 L244,137.25 L249,136.5 L254,138.1 L259,140.6 L265.25,144.4 L271.5,148.1 L276.5,149.75 L284,149.75 L289,150.6 L295.25,151.5 L302.1,152.6 L305.25,158.75 L306.5,160 L311.5,171.25 L316.5,182.5 L321.5,192 L322.5,193.75 L327.5,200.6 L331.25,205 L335,211.9 L340,215.6 L346.25,218.75 L352.5,221 L358.75,221.5 L365,221 L368.75,220 L371.9,214.4 L374,210.6 L377.5,202 L381.25,193.75 L386.25,185 L391.25,176.9 L396.25,170.6 L401.25,165 L405,157.5 L407.5,152 L411.25,146.25 L415,143.1 L420,141.9 L425,140.4 L430,137.5 L433.75,136.25 L436.25,138.4 L440,144 L443.75,149.8 L448.75,153.6 L453.75,158.75 L458.75,163.1 L462.5,166.9 L467.5,168.75 L472.5,168.5 L477.5,165.6 L482.5,161.25 L486.25,156.9 L490,153.75 L495,151.9 L500,151.4 L503.75,153.4 L508.75,155.5 L513.75,155 L518.75,149 L523.75,140.25 L527.5,134.6 L532.5,129.8 L537.75,125.5 L544,121 L549,117.6 L552.75,113.25 L556.5,107 L560.25,100.4 L565.25,97.7 L570.25,95.8 L575.25,93 L579,92.5 L584,89.6 L588,87.2 L592.5,86 L598.75,83.25 L603.75,79.1 L610,76 L616.25,73.5 L623.75,73.2 L630,72.25 L633.75,76.6 L637.5,81 L641.25,83.25 L646.25,84.1 L651.25,86 L656.25,89.5 L660,91.4 L663.75,91.6" fill="none" stroke="#00ff00" stroke-width="1.32" stroke-linejoin="round" stroke-linecap="butt"/>
<defs><clipPath id="mc"><rect x="1" y="0" width="723" height="253.2"/></clipPath><g id="fr"><path d="M0.1,-3.1 L-3.7,2.9 L0.3,0.7 Z" fill="#7c8496"/><path d="M0.1,-3.1 L0.3,0.7 L3.7,2.9 Z" fill="#cfd9e8" opacity="0.75"/><path d="M0.2,-2.2 L0.9,-1.2 L0.6,0.6 L0.2,0.6 Z" fill="#9fc0dd" opacity="0.7"/><path d="M-0.1,-3.1 L-3.9,2.9" stroke="#e2c8a2" stroke-width="0.55" fill="none" opacity="0.75"/></g></defs>
<g clip-path="url(#mc)">
<use href="#fr" transform="translate(86.3,96.6)"/>
<use href="#fr" transform="translate(119.4,93.5)"/>
<use href="#fr" transform="translate(147.75,101)"/>
<use href="#fr" transform="translate(170.6,131)"/>
<use href="#fr" transform="translate(203.5,117.5)"/>
<use href="#fr" transform="translate(232.1,104.75)"/>
<use href="#fr" transform="translate(269.4,132.5)"/>
<use href="#fr" transform="translate(331,203.75)"/>
<use href="#fr" transform="translate(368.5,131.9)"/>
<use href="#fr" transform="translate(396.6,85)"/>
<use href="#fr" transform="translate(421,114.9)"/>
<use href="#fr" transform="translate(472.25,126.25)"/>
<use href="#fr" transform="translate(509.6,89.6)"/>
<use href="#fr" transform="translate(542.5,61.2)"/>
<use href="#fr" transform="translate(561.25,57.9)"/>
<use href="#fr" transform="translate(589.4,48.5)"/>
<use href="#fr" transform="translate(617.5,58.4)"/>
<use href="#fr" transform="translate(631.25,73.5)"/>
<use href="#fr" transform="translate(76.6,136) scale(-1,-1)"/>
<use href="#fr" transform="translate(105,156) scale(-1,-1)"/>
<use href="#fr" transform="translate(138,155.75) scale(-1,-1)"/>
<use href="#fr" transform="translate(166.25,178.1) scale(-1,-1)"/>
<use href="#fr" transform="translate(180.25,177.5) scale(-1,-1)"/>
<use href="#fr" transform="translate(227.25,156.5) scale(-1,-1)"/>
<use href="#fr" transform="translate(260.25,173.5) scale(-1,-1)"/>
<use href="#fr" transform="translate(274.25,169.4) scale(-1,-1)"/>
<use href="#fr" transform="translate(302.5,240) scale(-1,-1)"/>
<use href="#fr" transform="translate(326,253.6) scale(-1,-1)"/>
<use href="#fr" transform="translate(405.6,150.6) scale(-1,-1)"/>
<use href="#fr" transform="translate(453.1,192.5) scale(-1,-1)"/>
<use href="#fr" transform="translate(495.4,190.6) scale(-1,-1)"/>
<use href="#fr" transform="translate(424.5,204) scale(-1,-1)"/>
<use href="#fr" transform="translate(523.6,127.25) scale(-1,-1)"/>
<use href="#fr" transform="translate(565.9,107.1) scale(-1,-1)"/>
<use href="#fr" transform="translate(603.5,85.9) scale(-1,-1)"/>
<use href="#fr" transform="translate(626.9,120) scale(-1,-1)"/>
</g>
<path d="M659.4,66.3 L654.7,70.8 L657.2,70.8 L657.2,77.4 L661.6,77.4 L661.6,70.8 L664.1,70.8 Z" fill="none" stroke="#4fe04f" stroke-width="0.7"/>
<path d="M656.9,84.2 L661.2,84.2 L661.2,89.5 L663.1,89.5 L658.8,94.4 L654.6,89.5 L656.9,89.5 Z" fill="none" stroke="#ff3a3a" stroke-width="0.85"/>
<rect x="0" y="0" width="0.95" height="420" fill="#fff"/>
<rect x="1.0" y="0" width="1.15" height="420" fill="#565656"/>
<rect x="723.45" y="0" width="1.45" height="420" fill="#787878"/>
<rect x="1" y="253.1" width="723.8" height="1.6" fill="#565656"/>
<rect x="1" y="313" width="723.8" height="1.6" fill="#565656"/>
<rect x="1" y="373.1" width="723.8" height="1.6" fill="#565656"/>
<rect x="725.4" y="78.4" width="20.2" height="6.5" fill="#c80000"/>
<g style="filter:grayscale(1)">
<rect x="724.3" y="7.15" width="4.0" height="0.7" fill="#222"/>
<text x="728.4" y="9.5" font-size="6.2" textLength="15" lengthAdjust="spacingAndGlyphs" fill="#000" stroke="#000" stroke-width="0.2">420.10</text>
<rect x="724.3" y="25.95" width="4.0" height="0.7" fill="#222"/>
<text x="728.4" y="28.3" font-size="6.2" textLength="15" lengthAdjust="spacingAndGlyphs" fill="#000" stroke="#000" stroke-width="0.2">417.20</text>
<rect x="724.3" y="44.95" width="4.0" height="0.7" fill="#222"/>
<text x="728.4" y="47.3" font-size="6.2" textLength="15" lengthAdjust="spacingAndGlyphs" fill="#000" stroke="#000" stroke-width="0.2">414.30</text>
<rect x="724.3" y="63.85" width="4.0" height="0.7" fill="#222"/>
<text x="728.4" y="66.2" font-size="6.2" textLength="15" lengthAdjust="spacingAndGlyphs" fill="#000" stroke="#000" stroke-width="0.2">411.40</text>
<rect x="724.3" y="101.65" width="4.0" height="0.7" fill="#222"/>
<text x="728.4" y="104" font-size="6.2" textLength="15" lengthAdjust="spacingAndGlyphs" fill="#000" stroke="#000" stroke-width="0.2">405.60</text>
<rect x="724.3" y="120.25" width="4.0" height="0.7" fill="#222"/>
<text x="728.4" y="122.6" font-size="6.2" textLength="15" lengthAdjust="spacingAndGlyphs" fill="#000" stroke="#000" stroke-width="0.2">402.70</text>
<rect x="724.3" y="139.85" width="4.0" height="0.7" fill="#222"/>
<text x="728.4" y="142.2" font-size="6.2" textLength="15" lengthAdjust="spacingAndGlyphs" fill="#000" stroke="#000" stroke-width="0.2">399.80</text>
<rect x="724.3" y="158.15" width="4.0" height="0.7" fill="#222"/>
<text x="728.4" y="160.5" font-size="6.2" textLength="15" lengthAdjust="spacingAndGlyphs" fill="#000" stroke="#000" stroke-width="0.2">396.90</text>
<rect x="724.3" y="177.55" width="4.0" height="0.7" fill="#222"/>
<text x="728.4" y="179.9" font-size="6.2" textLength="15" lengthAdjust="spacingAndGlyphs" fill="#000" stroke="#000" stroke-width="0.2">394.00</text>
<rect x="724.3" y="196.05" width="4.0" height="0.7" fill="#222"/>
<text x="728.4" y="198.4" font-size="6.2" textLength="15" lengthAdjust="spacingAndGlyphs" fill="#000" stroke="#000" stroke-width="0.2">391.10</text>
<rect x="724.3" y="215.55" width="4.0" height="0.7" fill="#222"/>
<text x="728.4" y="217.9" font-size="6.2" textLength="15" lengthAdjust="spacingAndGlyphs" fill="#000" stroke="#000" stroke-width="0.2">388.20</text>
<rect x="724.3" y="234.15" width="4.0" height="0.7" fill="#222"/>
<text x="728.4" y="236.5" font-size="6.2" textLength="15" lengthAdjust="spacingAndGlyphs" fill="#000" stroke="#000" stroke-width="0.2">385.30</text>
<text x="728.4" y="83.6" font-size="6.2" textLength="15" lengthAdjust="spacingAndGlyphs" fill="#fff">408.74</text>
<text x="727.5" y="259.6" font-size="6.2" textLength="15.9" lengthAdjust="spacingAndGlyphs" fill="#000" stroke="#000" stroke-width="0.2">12.873</text>
<text x="727" y="312" font-size="6.2" textLength="17.9" lengthAdjust="spacingAndGlyphs" fill="#000" stroke="#000" stroke-width="0.2">-12.301</text>
<text x="727.5" y="319.6" font-size="6.2" textLength="15.9" lengthAdjust="spacingAndGlyphs" fill="#000" stroke="#000" stroke-width="0.2">6.9405</text>
<text x="727" y="372" font-size="6.2" textLength="17.9" lengthAdjust="spacingAndGlyphs" fill="#000" stroke="#000" stroke-width="0.2">-5.8955</text>
<text x="727.5" y="379.8" font-size="6.2" textLength="15.9" lengthAdjust="spacingAndGlyphs" fill="#000" stroke="#000" stroke-width="0.2">10.106</text>
<rect x="724.3" y="255" width="2" height="0.6" fill="#444"/>
<rect x="724.3" y="312.1" width="2" height="0.6" fill="#444"/>
<rect x="724.3" y="314.9" width="2" height="0.6" fill="#444"/>
<rect x="724.3" y="372.2" width="2" height="0.6" fill="#444"/>
<rect x="724.3" y="375" width="2" height="0.6" fill="#444"/>
<text x="3.3" y="261.9" font-size="5.47" textLength="34.9" lengthAdjust="spacingAndGlyphs" fill="#000" stroke="#000" stroke-width="0.12">AOcust -0.202</text>
<text x="3.3" y="321.9" font-size="5.47" textLength="37.6" lengthAdjust="spacingAndGlyphs" fill="#000" stroke="#000" stroke-width="0.12">ACcust -0.7450</text>
<text x="3.2" y="381.9" font-size="5.47" textLength="57.2" lengthAdjust="spacingAndGlyphs" fill="#000" stroke="#000" stroke-width="0.12">GatorCust 0.265 -0.729</text>
</g>
</svg></body></html>
